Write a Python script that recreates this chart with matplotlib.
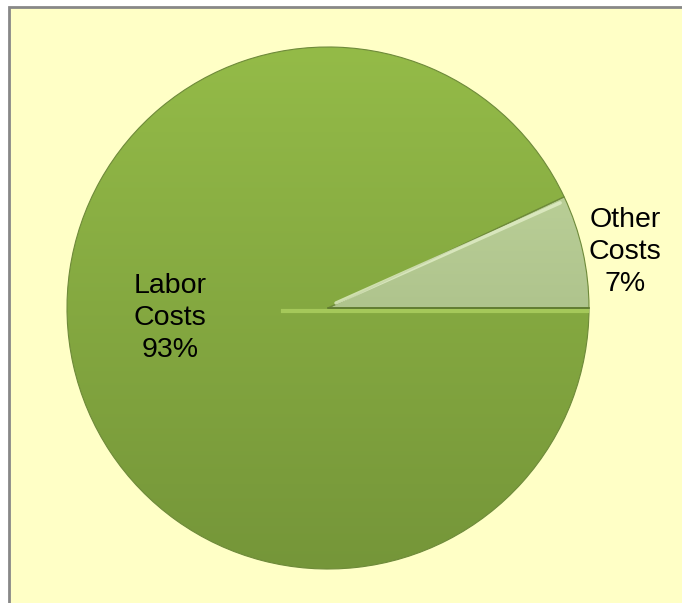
import numpy as np
import matplotlib
matplotlib.use("Agg")
import matplotlib.pyplot as plt
from matplotlib.patches import Rectangle
from matplotlib.colors import LinearSegmentedColormap

# ── data ────────────────────────────────────────────────────────────────────
categories = ["Labor Costs", "Other Costs"]
shares = [93, 7]
pct_labels = ["93%", "7%"]

# colours (top → bottom of the gradient)
grad_colors = [("#94BB48", "#759639"), ("#C6DBA2", "#98AD78")]

# ── figure ───────────────────────────────────────────────────────────────────
W, H = 682, 603
fig = plt.figure(figsize=(W / 100, H / 100), dpi=100, facecolor="white")

ax = fig.add_axes([0, 0, 1, 1])
ax.axis("off")

# yellow frame running off the right/bottom of the picture
ax.add_patch(Rectangle((9, -20), W + 40, H - 7 + 20, facecolor="#FFFFC6",
                       edgecolor="#888888", lw=2, zorder=0, clip_on=False))

cx, cy, r = 328, H - 308, 261
start = 360 * shares[1] / sum(shares)

wedges, _ = ax.pie(shares, startangle=start, counterclock=True,
                   center=(cx, cy), radius=r, frame=True,
                   wedgeprops=dict(edgecolor="#6E8A3A", linewidth=0.8))

# vertical gradient fill clipped to each wedge
grad = np.linspace(0, 1, 256).reshape(-1, 1)
for w, (c_top, c_bot) in zip(wedges, grad_colors):
    w.set_facecolor("none")
    cmap = LinearSegmentedColormap.from_list("g", [c_bot, c_top])
    im = ax.imshow(grad, cmap=cmap, origin="lower", aspect="auto",
                   extent=(cx - r, cx + r, cy - r, cy + r), zorder=1)
    im.set_clip_path(w)
    w.set_zorder(2)

# light bevel lines along the split edges of the small slice
th = np.radians(start)
ax.plot([cx + 8, cx + r * np.cos(th) - 4], [cy + 5, cy + r * np.sin(th) - 6],
        color="#E2EEC8", lw=2.5, alpha=0.8, zorder=3, solid_capstyle="round")
ax.plot([cx - 45, cx + r - 2], [cy - 3, cy - 3],
        color="#A9CC5E", lw=3, alpha=0.9, zorder=3)
ax.plot([cx, cx + r], [cy, cy], color="#5F7A30", lw=1.2, zorder=3)

font = dict(family=["Liberation Sans", "DejaVu Sans"], fontsize=20.5,
            color="black", ha="center", va="center", linespacing=1.28, zorder=4)
ax.text(170, H - 318, "Labor\nCosts\n" + pct_labels[0], **font)
ax.text(625, H - 252, "Other\nCosts\n" + pct_labels[1], **font)

ax.set_xlim(0, W)
ax.set_ylim(0, H)
ax.set_aspect("equal")
ax.axis("off")

fig.savefig("out.png", dpi=100, facecolor=fig.get_facecolor())
